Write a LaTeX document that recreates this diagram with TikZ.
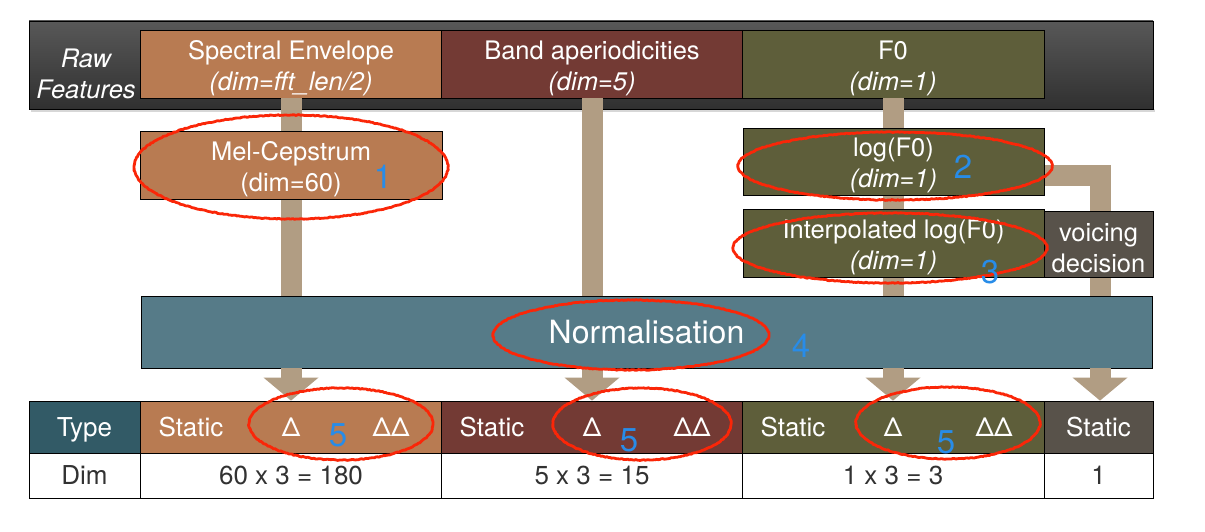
\documentclass[tikz,border=0pt]{standalone}
\usepackage{fontspec}
\setmainfont{TeX Gyre Heros}
\usetikzlibrary{arrows.meta,decorations.pathmorphing}
\definecolor{specC}{RGB}{184,123,82}
\definecolor{bandC}{RGB}{115,58,52}
\definecolor{fzC}{RGB}{94,94,58}
\definecolor{voiceC}{RGB}{88,82,74}
\definecolor{normC}{RGB}{86,123,136}
\definecolor{typeC}{RGB}{50,90,102}
\definecolor{tanC}{RGB}{177,157,131}
\definecolor{redC}{RGB}{250,38,8}
\definecolor{blueC}{RGB}{40,140,232}
\definecolor{barTop}{RGB}{88,88,88}
\definecolor{barBot}{RGB}{48,48,48}
\definecolor{dimtext}{RGB}{50,50,50}
\definecolor{shadowC}{RGB}{215,215,215}
\begin{document}
\begin{tikzpicture}[x=1pt,y=-1pt,
  box/.style={draw=black,line width=0.8pt,inner sep=0pt},
  btxt/.style={text=white,align=center,inner sep=0pt,yshift=-4pt,
    font=\fontsize{25.5}{31}\selectfont},
  tanbar/.style={draw=tanC,line width=21pt,line join=miter},
  tanarrow/.style={draw=tanC,line width=21pt,-{Triangle[width=55pt,length=23pt,line width=0pt]}},
  redmark/.style={draw=redC,line width=2.8pt,line join=round,decorate,
    decoration={random steps,segment length=1.6pt,amplitude=0.45pt}},
  num/.style={text=blueC,font=\fontsize{33}{33}\selectfont,inner sep=0pt},
  celltext/.style={text=white,font=\fontsize{26}{30}\selectfont,inner sep=0pt,
    text height=18pt,text depth=5pt},
  dimcell/.style={draw=black,line width=0.8pt,fill=white,inner sep=0pt,text=dimtext,
    font=\fontsize{26}{30}\selectfont,minimum height=45pt},
  rowcell/.style={draw=black,line width=0.8pt,inner sep=0pt,minimum height=52pt},
]
\useasboundingbox (0,0) rectangle (1205,532);

% raw feature bar
\fill[shadowC] (31,109) rectangle (1155,112);
\node[draw=black,line width=0.8pt,top color=barTop,bottom color=barBot,inner sep=0pt,
  minimum width=1124pt,minimum height=88pt] (bar) at (591,65) {};
\node[text=white,align=center,font=\fontsize{25.5}{31}\selectfont\itshape] (raw) at (86,74) {Raw\\Features};

% boxes of the raw features
\node[box,fill=specC,minimum width=301pt,minimum height=68pt] (spec) at (291,64) {};
\node[box,fill=bandC,minimum width=301pt,minimum height=68pt] (band) at (592,64) {};
\node[box,fill=fzC,minimum width=302pt,minimum height=68pt] (fz) at (893,64) {};
\node[btxt] (specT) at (spec.center) {Spectral Envelope\\\textit{(dim=fft\_len/2)}};
\node[btxt] (bandT) at (band.center) {Band aperiodicities\\\textit{(dim=5)}};
\node[btxt] (fzT) at (fz.center) {F0\\\textit{(dim=1)}};
\node[inner sep=0pt,minimum width=1011pt,minimum height=72pt] (normpos) at (646.5,332) {};

% connectors behind boxes
\draw[tanbar] (spec.south) -- (spec.south |- normpos.north);
\draw[tanbar] (band.south) -- (band.south |- normpos.north);
\draw[tanbar] (fz.south) -- (fz.south |- normpos.north);
\coordinate (vstart) at (1044,175.5);
\coordinate (vcorner) at (1100,175.5);
\draw[tanbar] (vstart) -- (vcorner) -- (vcorner |- normpos.north);

\node[box,fill=specC,minimum width=302pt,minimum height=68pt] (mel) at (291,165) {};
\node[btxt] (melT) at (mel.center) {Mel-Cepstrum\\(dim=60)};
\node[box,fill=fzC,minimum width=301pt,minimum height=67pt] (logf) at (893.5,161.5) {};
\node[btxt] (logfT) at (logf.center) {log(F0)\\\textit{(dim=1)}};
\node[box,fill=fzC,minimum width=301pt,minimum height=68pt] (interp) at (893.5,243) {};
\node[btxt] (interpT) at (interp.center) {Interpolated log(F0)\\\textit{(dim=1)}};
\node[box,fill=voiceC,minimum width=109pt,minimum height=66pt] (voice) at (1098.5,244) {};
\node[btxt] (voiceT) at (voice.center) {voicing\\decision};
\node[box,fill=normC,minimum width=1011pt,minimum height=72pt,text=white,
  font=\fontsize{32}{36}\selectfont] (norm) at (646.5,332) {Normalisation};

% table
\node[rowcell,fill=typeC,minimum width=111pt] (type) at (84.5,427) {};
\node[rowcell,fill=specC,minimum width=301pt] (tspec) at (291,427) {};
\node[rowcell,fill=bandC,minimum width=301pt] (tband) at (592,427) {};
\node[rowcell,fill=fzC,minimum width=302pt] (tfz) at (893,427) {};
\node[rowcell,fill=voiceC,minimum width=109pt] (tvoice) at (1098.5,427) {};

\node[celltext] (typeT) at (84.5,430) {Type};
\node[celltext] (s1) at (191,430) {Static};
\node[celltext] (d1) at (291,430) {Δ};
\node[celltext] (dd1) at (391,430) {ΔΔ};
\node[celltext] (s2) at (492,430) {Static};
\node[celltext] (d2) at (592,430) {Δ};
\node[celltext] (dd2) at (692,430) {ΔΔ};
\node[celltext] (s3) at (793,430) {Static};
\node[celltext] (d3) at (893,430) {Δ};
\node[celltext] (dd3) at (994,430) {ΔΔ};
\node[celltext] (s4) at (1098.5,430) {Static};

\node[dimcell,minimum width=111pt] (dim) at (84.5,475.5) {Dim};
\node[dimcell,minimum width=301pt] (dspec) at (291,475.5) {60 x 3 = 180};
\node[dimcell,minimum width=301pt] (dband) at (592,475.5) {5 x 3 = 15};
\node[dimcell,minimum width=302pt] (dfz) at (893,475.5) {1 x 3 = 3};
\node[dimcell,minimum width=109pt] (dvoice) at (1098.5,475.5) {1};

% arrows into the table
\draw[tanarrow] (norm.south -| tspec.north) -- (tspec.north);
\draw[tanarrow] (norm.south -| tband.north) -- (tband.north);
\draw[tanarrow] (norm.south -| tfz.north) -- (tfz.north);
\draw[tanarrow] (norm.south -| vcorner) -- (tvoice.north -| vcorner);

% red annotation ellipses
\draw[redmark] (291,167) ellipse [x radius=157, y radius=52];
\draw[redmark] (895,166) ellipse [x radius=157, y radius=34];
\draw[redmark] (890,248) ellipse [x radius=157, y radius=35];
\draw[redmark] (631,335) ellipse [x radius=138, y radius=35];
\draw[redmark] (341,424) ellipse [x radius=92, y radius=36];
\draw[redmark] (642,424) ellipse [x radius=89, y radius=36];
\draw[redmark] (948,423) ellipse [x radius=92, y radius=36];

% blue numbers
\node[num] (n1) at (383,177) {1};
\node[num] (n2) at (963,167) {2};
\node[num] (n3) at (990,272) {3};
\node[num] (n4) at (801,346) {4};
\node[num] (n5a) at (338,435) {5};
\node[num] (n5b) at (629,440) {5};
\node[num] (n5c) at (946,442) {5};
\end{tikzpicture}
\end{document}
